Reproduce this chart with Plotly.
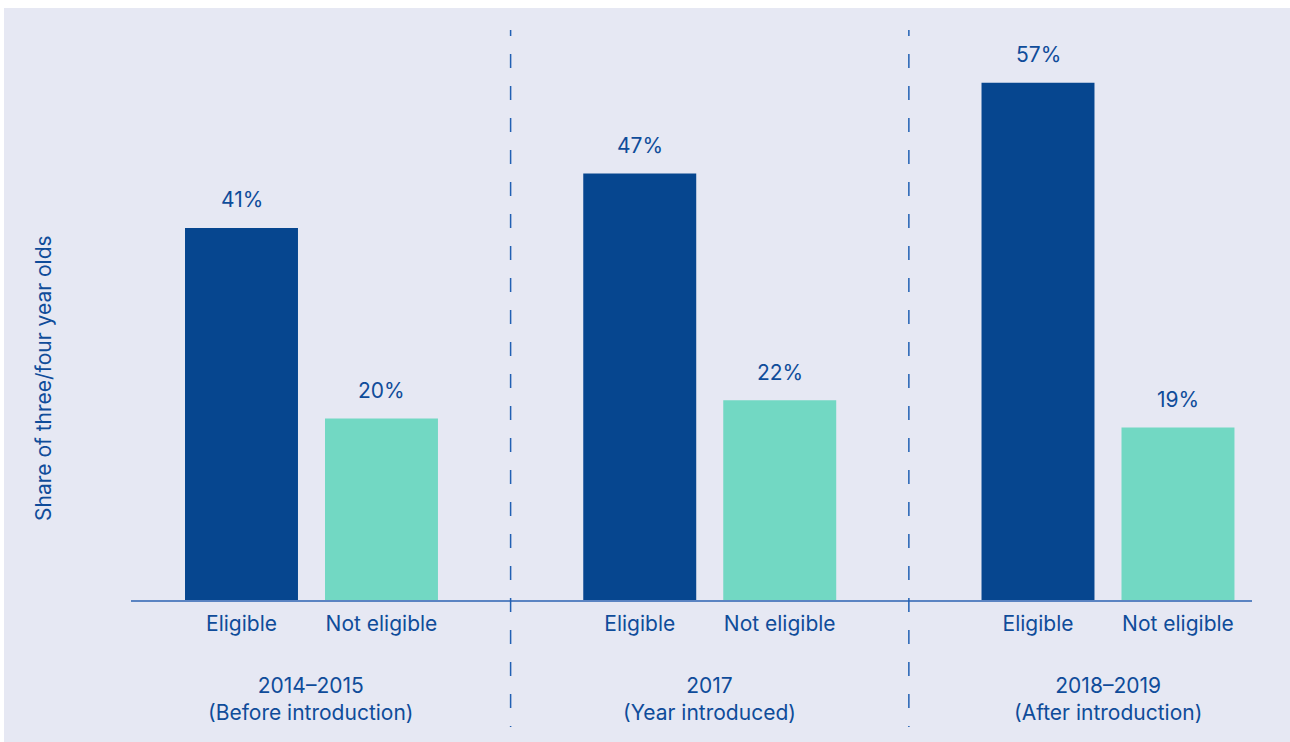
import plotly.graph_objects as go

# Data
groups = ["2014–2015<br>(Before introduction)",
          "2017<br>(Year introduced)",
          "2018–2019<br>(After introduction)"]
series_names = ["Eligible", "Not eligible"]
eligible = [41, 47, 57]
not_eligible = [20, 22, 19]
y_title = "Share of three/four year olds"

# Styling
BG = "#e6e8f3"
TEXT = "#0f4c9a"
C_ELIG = "#06468f"
C_NOT = "#72d8c3"
FONT = "Inter"
FS = 21

W, H = 1290, 742
ML, MR, MT, MB = 131, 38, 30, 142
PW, PH = W - ML - MR, H - MT - MB

BARGAP = 0.297
BARGROUPGAP = 0.193
offset = (1 - BARGAP) / 4  # centre offset of each bar within its group

gx = list(range(len(groups)))
x_min, x_max = -0.4532, 2.3616
y_max = PH / 9.076


def px_x(p):
    return (p - ML) / PW


def px_y(p):
    return (H - MB - p) / PH


fig = go.Figure()
fig.add_trace(go.Bar(x=gx, y=eligible, name=series_names[0],
                     marker=dict(color=C_ELIG, line=dict(width=0))))
fig.add_trace(go.Bar(x=gx, y=not_eligible, name=series_names[1],
                     marker=dict(color=C_NOT, line=dict(width=0))))

# Value labels above bars
for vals, sign in ((eligible, -1), (not_eligible, 1)):
    for g, v in zip(gx, vals):
        fig.add_annotation(x=g + sign * offset, y=v, xref="x", yref="y",
                           text=f"{v}%", showarrow=False, yanchor="middle",
                           yshift=28, font=dict(family=FONT, size=FS, color=TEXT))

# Group labels below axis
for g, label in zip(gx, groups):
    fig.add_annotation(x=g, y=px_y(699), xref="x", yref="paper", text=label,
                       showarrow=False, xanchor="center", yanchor="middle",
                       font=dict(family=FONT, size=FS, color=TEXT))

# Vertical axis title
fig.add_annotation(x=px_x(43), y=px_y(378), xref="paper", yref="paper",
                   text=y_title, textangle=-90, showarrow=False,
                   xanchor="center", yanchor="middle",
                   font=dict(family=FONT, size=FS, color=TEXT))

# Panel background
fig.add_shape(type="rect", xref="paper", yref="paper", layer="below",
              x0=px_x(4), x1=px_x(W), y0=px_y(H), y1=px_y(8),
              fillcolor=BG, line=dict(width=0))

# Dashed separators between groups
dash_pattern = ",".join(["6px", "18px"] + ["14px", "18px"] * 21 + ["14px"])
for g in gx[:-1]:
    fig.add_shape(type="line", xref="x", yref="paper",
                  x0=g + 0.5, x1=g + 0.5, y0=px_y(30), y1=px_y(727),
                  line=dict(color="#2160b3", width=1.5, dash=dash_pattern))

tick_vals, tick_text = [], []
for g in gx:
    tick_vals += [g - offset, g + offset]
    tick_text += series_names

fig.update_layout(
    width=W, height=H,
    margin=dict(l=ML, r=MR, t=MT, b=MB, pad=0),
    paper_bgcolor="white", plot_bgcolor="rgba(0,0,0,0)",
    barmode="group", bargap=BARGAP, bargroupgap=BARGROUPGAP,
    showlegend=False,
    font=dict(family=FONT, size=FS, color=TEXT),
    xaxis=dict(range=[x_min, x_max], tickvals=tick_vals, ticktext=tick_text,
               showgrid=False, zeroline=False, showline=True,
               linecolor="#5b84c2", linewidth=1.5, ticks="",
               ticklabelstandoff=4,
               tickfont=dict(family=FONT, size=FS, color=TEXT)),
    yaxis=dict(range=[0, y_max], visible=False, showgrid=False, zeroline=False),
)

fig.write_html("out.html")
